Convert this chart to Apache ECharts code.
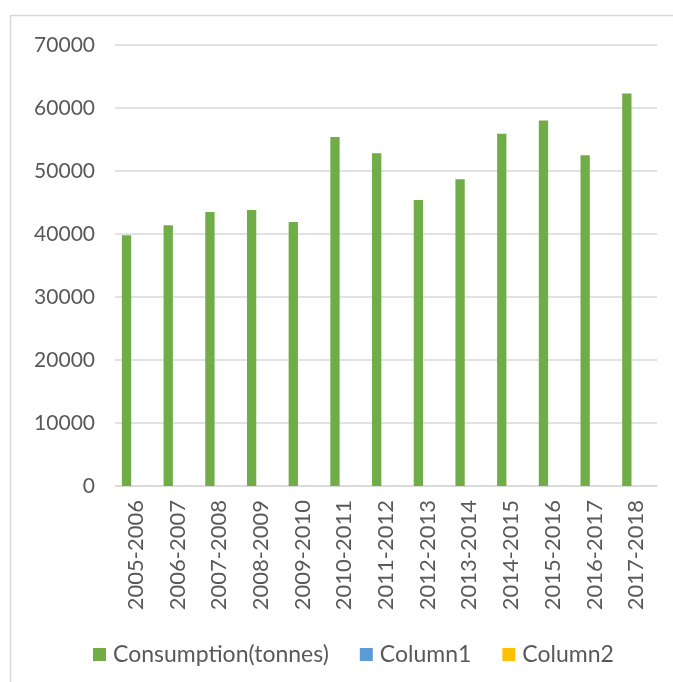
<!DOCTYPE html>
<html><head><meta charset="utf-8">
<script src="https://cdn.jsdelivr.net/npm/echarts@6/dist/echarts.min.js"></script>
<style>html,body{margin:0;padding:0;background:#fff}#c{width:673px;height:682px}</style>
</head><body><div id="c"></div>
<script>
const categories = ['2005-2006','2006-2007','2007-2008','2008-2009','2009-2010','2010-2011','2011-2012','2012-2013','2013-2014','2014-2015','2015-2016','2016-2017','2017-2018'];
const consumption = [39800,41400,43500,43800,41900,55400,52800,45400,48700,55900,58000,52500,62300];
const column1 = [null,null,null,null,null,null,null,null,null,null,null,null,null];
const column2 = [null,null,null,null,null,null,null,null,null,null,null,null,null];
const yTicks = [0,10000,20000,30000,40000,50000,60000,70000];

const font = 'Lato, "Open Sans", sans-serif';
const chart = echarts.init(document.getElementById('c'));
chart.setOption({
  animation:false,
  graphic:[{type:'rect',shape:{x:10.5,y:15.5,width:680,height:700},style:{fill:'none',stroke:'#d9d9d9',lineWidth:1.5}}],
  grid:{left:115,right:16,top:45,bottom:196},
  legend:{left:88,top:638,itemWidth:13,itemHeight:13,itemGap:31,icon:'rect',
    textStyle:{fontFamily:font,fontSize:23,color:'#595959',padding:[0,0,0,2]}},
  xAxis:{type:'category',data:categories,
    axisLine:{lineStyle:{color:'#d9d9d9',width:1.5}},axisTick:{show:false},
    axisLabel:{rotate:90,interval:0,margin:14,fontFamily:font,fontSize:22,color:'#595959'}},
  yAxis:{type:'value',min:0,max:70000,interval:10000,
    axisLine:{show:false},axisTick:{show:false},
    splitLine:{lineStyle:{color:'#d9d9d9',width:1.5}},
    axisLabel:{margin:20,fontFamily:font,fontSize:21,color:'#595959',
      formatter:v=>yTicks.includes(v)?String(v):''}},
  series:[
    {name:'Consumption(tonnes)',type:'bar',data:consumption,itemStyle:{color:'#70ad47'},barGap:'0%',barCategoryGap:'33%'},
    {name:'Column1',type:'bar',data:column1,itemStyle:{color:'#5b9bd5'}},
    {name:'Column2',type:'bar',data:column2,itemStyle:{color:'#ffc000'}}
  ]
});
</script></body></html>
